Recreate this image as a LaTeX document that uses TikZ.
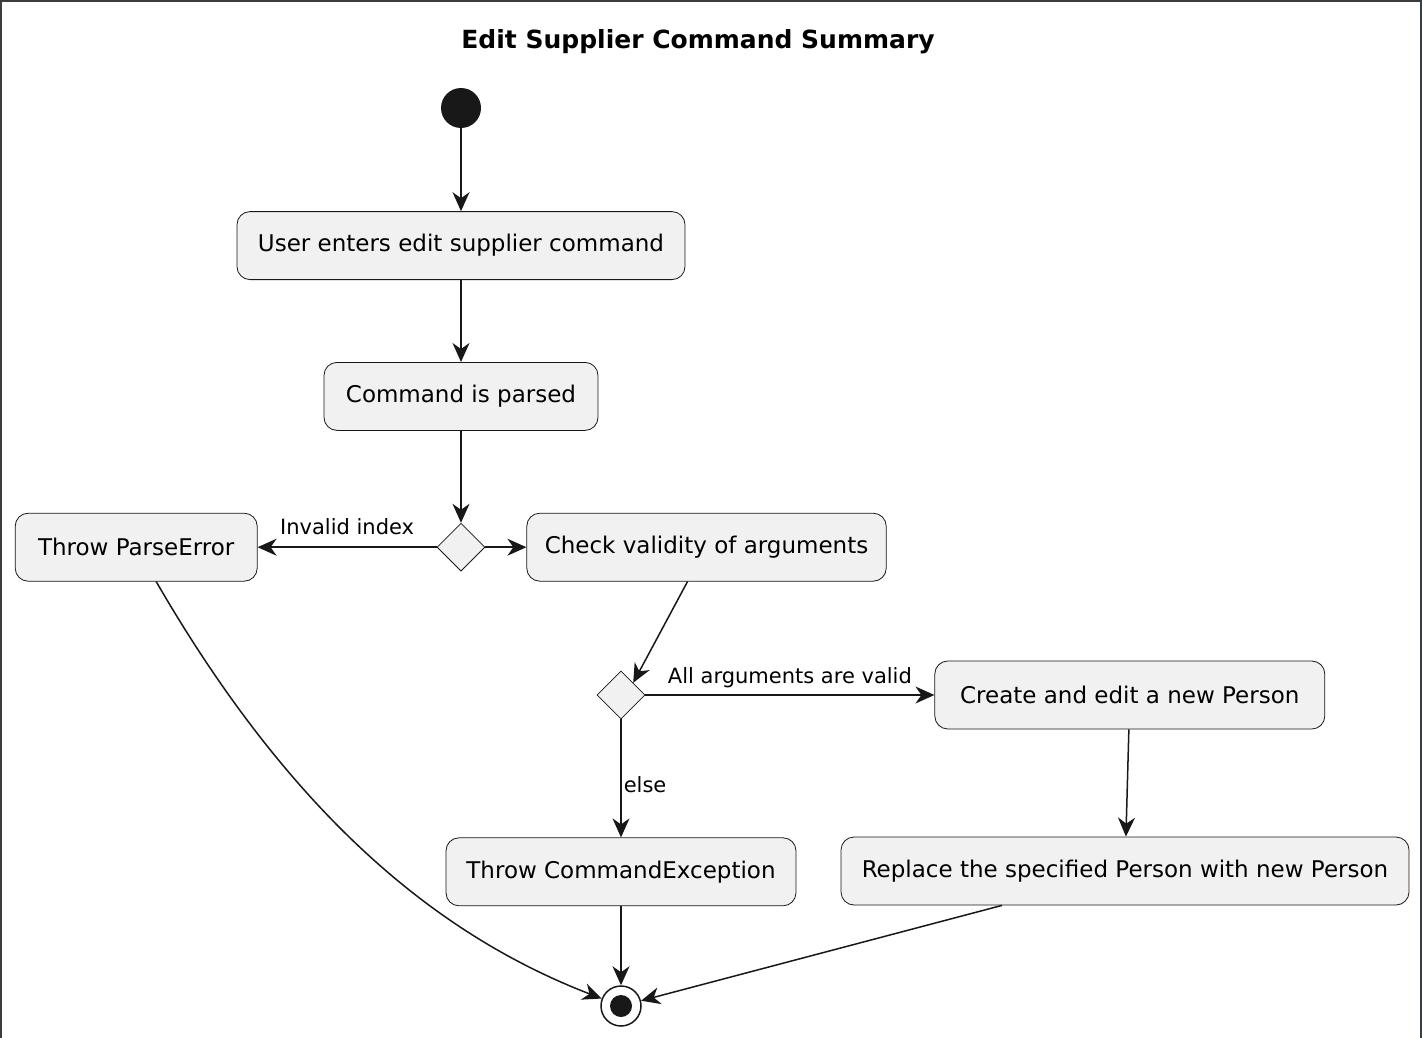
\documentclass[tikz,border=0pt]{standalone}
\usepackage{fontspec}
\setmainfont{DejaVu Sans}
\usepackage{tikz}
\usetikzlibrary{arrows.meta,shapes.geometric,positioning}
\definecolor{actfill}{HTML}{F1F1F1}
\definecolor{ink}{HTML}{181818}
\definecolor{framec}{HTML}{3A3D40}

\begin{document}
\begin{tikzpicture}[x=1pt,y=-1pt,
    act/.style={draw=ink,fill=actfill,line width=0.8pt,rounded corners=13pt,
      minimum height=68pt,inner xsep=18pt,font=\fontsize{23}{27}\selectfont},
    branch/.style={diamond,draw=ink,fill=actfill,line width=0.8pt,
      minimum width=48pt,minimum height=48pt,inner sep=0pt},
    flow/.style={draw=ink,line width=1.5pt,-{Stealth[length=19pt,width=17pt,inset=6pt]}},
    lbl/.style={font=\fontsize{21}{25}\selectfont,inner sep=2pt}]
 \useasboundingbox (0,0) rectangle (1422,1038);
 \draw[framec,line width=2pt] (1,1038) -- (1,1) -- (1421,1) -- (1421,1038);
 \node[font=\bfseries\fontsize{25}{30}\selectfont] (title) at (698,42)
  {Edit Supplier Command Summary};
 \node[circle,fill=ink,minimum size=40pt,inner sep=0pt] (start) at (461,108) {};
 \node[act,minimum width=448pt,below=83pt of start] (user) {User enters edit supplier command};
 \node[act,minimum width=274pt,below=82pt of user] (parsed) {Command is parsed};
 \node[branch,below=92pt of parsed] (idx) {};
 \node[act,minimum width=242pt,left=179pt of idx] (perr) {Throw ParseError};
 \node[act,minimum width=358pt,right=41pt of idx] (check) {Check validity of arguments};
 \node[branch] (valid) at (621,695) {};
 \node[act,minimum width=390pt,right=289pt of valid] (create) {Create and edit a new Person};
 \node[act,minimum width=350pt,below=118pt of valid] (cmdex) {Throw CommandException};
 \node[act,minimum width=568pt] (replace) at (1125,871) {Replace the specified Person with new Person};
 \node[circle,draw=ink,fill=white,line width=1.5pt,minimum size=40pt,inner sep=0pt] (stop) at (621,1006) {};
 \node[circle,fill=ink,minimum size=22pt,inner sep=0pt] (stopdot) at (stop.center) {};
 \path (start) edge[flow] (user)
  (user) edge[flow] (parsed)
  (parsed) edge[flow] (idx)
  (idx) edge[flow] node[lbl,midway,above=10pt] {Invalid index} (perr)
  (idx) edge[flow] (check)
  ([xshift=-19pt]check.south) edge[flow] (valid.north east)
  (valid) edge[flow] node[lbl,midway,above=4pt] {All arguments are valid} (create)
  (valid) edge[flow] node[lbl,pos=0.55,right=0pt] {else} (cmdex)
  (create) edge[flow] (replace)
  (cmdex) edge[flow] (stop)
  ([xshift=-123pt]replace.south) edge[flow] (stop);
 \draw[flow] ([xshift=20pt]perr.south) .. controls (300,830) and (450,940) .. (stop);
\end{tikzpicture}
\end{document}
